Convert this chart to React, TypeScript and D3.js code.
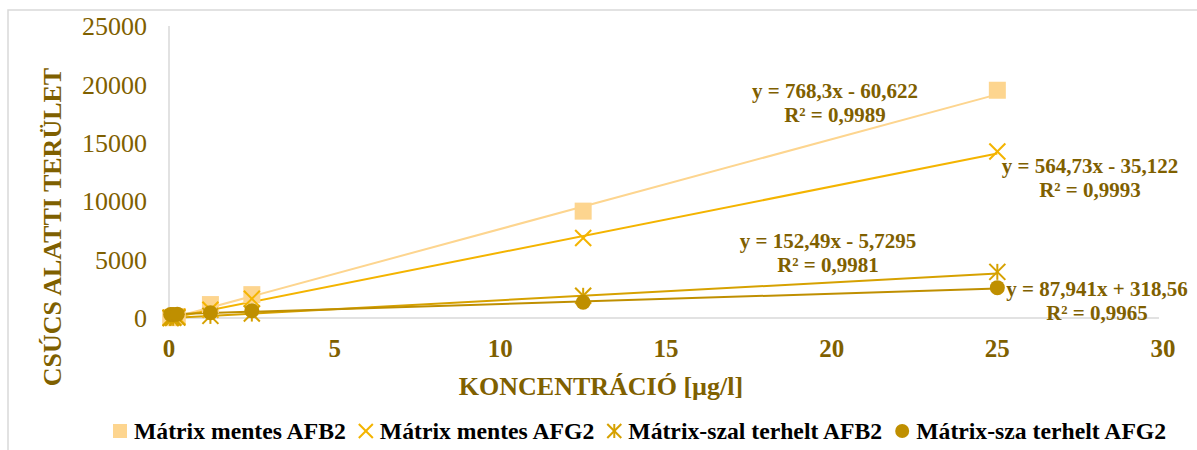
import React, { useEffect, useRef } from "react";
import * as d3 from "d3";

// Concentrations of the calibration standards (µg/l)
const concentrations = [0.05, 0.125, 0.25, 1.25, 2.5, 12.5, 25];

// Peak areas per series
const afb2Free = [25, 60, 130, 1150, 2000, 9150, 19500];
const afg2Free = [20, 40, 100, 700, 1650, 6850, 14250];
const afb2Matrix = [5, 15, 30, 180, 380, 1900, 3950];
const afg2Matrix = [300, 310, 330, 450, 620, 1350, 2600];

const seriesNames = [
  "Mátrix mentes AFB2",
  "Mátrix mentes AFG2",
  "Mátrix-szal terhelt AFB2",
  "Mátrix-sza terhelt AFG2",
];

// Linear trendline coefficients and fit quality
const slopes = [768.3, 564.73, 152.49, 87.941];
const intercepts = [-60.622, -35.122, -5.7295, 318.56];
const equationLabels = [
  "y = 768,3x - 60,622",
  "y = 564,73x - 35,122",
  "y = 152,49x - 5,7295",
  "y = 87,941x + 318,56",
];
const r2Labels = ["R² = 0,9989", "R² = 0,9993", "R² = 0,9981", "R² = 0,9965"];

const xTicks = [0, 5, 10, 15, 20, 25, 30];
const yTicks = [0, 5000, 10000, 15000, 20000, 25000];

const xTitle = "KONCENTRÁCIÓ [µg/l]";
const yTitle = "CSÚCS ALATTI TERÜLET";

const W = 1197;
const H = 450;
const FONT = "'Liberation Serif', 'Times New Roman', serif";
const TEXT = "#7f6000";
const AXIS = "#d9d9d9";
const colors = ["#fdd58f", "#f4b400", "#d6a100", "#bf8f00"];
const shapes = ["square", "x", "asterisk", "circle"];

function drawMarker(
  g: d3.Selection<SVGGElement, unknown, null, undefined>,
  shape: string,
  cx: number,
  cy: number,
  size: number,
  color: string
) {
  const h = size / 2;
  if (shape === "square") {
    g.append("rect")
      .attr("x", cx - h)
      .attr("y", cy - h)
      .attr("width", size)
      .attr("height", size)
      .attr("fill", color);
  } else if (shape === "circle") {
    g.append("circle").attr("cx", cx).attr("cy", cy).attr("r", h).attr("fill", color);
  } else {
    const segs: [number, number, number, number][] = [
      [-h, -h, h, h],
      [-h, h, h, -h],
    ];
    if (shape === "asterisk") segs.push([0, -h, 0, h]);
    segs.forEach(([x1, y1, x2, y2]) =>
      g.append("line")
        .attr("x1", cx + x1)
        .attr("y1", cy + y1)
        .attr("x2", cx + x2)
        .attr("y2", cy + y2)
        .attr("stroke", color)
        .attr("stroke-width", 2)
    );
  }
}

export default function App() {
  const ref = useRef<SVGSVGElement | null>(null);

  useEffect(() => {
    const svg = d3.select(ref.current);
    svg.selectAll("*").remove();

    const series = [afb2Free, afg2Free, afb2Matrix, afg2Matrix];

    const x = d3.scaleLinear().domain([0, 30]).range([169, 1163]);
    const y = d3.scaleLinear().domain([0, 25000]).range([318, 26]);

    // outer chart frame
    svg.append("rect")
      .attr("x", 8)
      .attr("y", 10)
      .attr("width", 1200)
      .attr("height", 460)
      .attr("fill", "#fff")
      .attr("stroke", AXIS)
      .attr("stroke-width", 1.5);

    // axis lines
    svg.append("line")
      .attr("x1", x(0)).attr("x2", x(0))
      .attr("y1", y(25000)).attr("y2", y(0))
      .attr("stroke", AXIS).attr("stroke-width", 1.5);
    svg.append("line")
      .attr("x1", x(0)).attr("x2", x(30) - 4)
      .attr("y1", y(0)).attr("y2", y(0))
      .attr("stroke", AXIS).attr("stroke-width", 1.5);

    // y tick labels
    svg.append("g")
      .selectAll("text")
      .data(yTicks)
      .join("text")
      .attr("x", 147)
      .attr("y", (d) => y(d))
      .attr("dy", "0.35em")
      .attr("text-anchor", "end")
      .attr("font-family", FONT)
      .attr("font-size", 26)
      .attr("fill", TEXT)
      .text((d) => String(d));

    // x tick labels
    svg.append("g")
      .selectAll("text")
      .data(xTicks)
      .join("text")
      .attr("x", (d) => x(d))
      .attr("y", 348)
      .attr("dy", "0.35em")
      .attr("text-anchor", "middle")
      .attr("font-family", FONT)
      .attr("font-size", 25)
      .attr("font-weight", "bold")
      .attr("fill", TEXT)
      .text((d) => String(d));

    // axis titles
    svg.append("text")
      .attr("transform", `translate(52,227) rotate(-90)`)
      .attr("dy", "0.35em")
      .attr("text-anchor", "middle")
      .attr("font-family", FONT)
      .attr("font-size", 26)
      .attr("font-weight", "bold")
      .attr("fill", TEXT)
      .text(yTitle);
    svg.append("text")
      .attr("x", 601)
      .attr("y", 386)
      .attr("dy", "0.35em")
      .attr("text-anchor", "middle")
      .attr("font-family", FONT)
      .attr("font-size", 26)
      .attr("font-weight", "bold")
      .attr("fill", TEXT)
      .text(xTitle);

    // trendlines
    const x0 = d3.min(concentrations) as number;
    const x1 = d3.max(concentrations) as number;
    const tg = svg.append("g");
    slopes.forEach((m, i) => {
      const line = d3.line<number>()
        .x((c) => x(c))
        .y((c) => y(m * c + intercepts[i]));
      tg.append("path")
        .attr("d", line([x0, x1]))
        .attr("fill", "none")
        .attr("stroke", colors[i])
        .attr("stroke-width", 2);
    });

    // data markers
    const mg = svg.append("g");
    series.forEach((vals, i) => {
      vals.forEach((v, k) => {
        const size = shapes[i] === "square" ? 17 : shapes[i] === "circle" ? 15 : 16;
        drawMarker(mg as any, shapes[i], x(concentrations[k]), y(v), size, colors[i]);
      });
    });

    // trendline equation labels
    const labelPos: [number, number][] = [
      [835, 91],
      [1090, 166],
      [828, 241],
      [1097, 289],
    ];
    const lg = svg.append("g");
    labelPos.forEach(([lx, ly], i) => {
      [equationLabels[i], r2Labels[i]].forEach((t, j) => {
        lg.append("text")
          .attr("x", lx)
          .attr("y", ly + j * 24)
          .attr("dy", "0.35em")
          .attr("text-anchor", "middle")
          .attr("font-family", FONT)
          .attr("font-size", 21)
          .attr("font-weight", "bold")
          .attr("fill", TEXT)
          .text(t);
      });
    });

    // legend
    const leg = svg.append("g");
    let cursor = 113;
    const ly = 431;
    seriesNames.forEach((name, i) => {
      drawMarker(leg as any, shapes[i], cursor + 7, ly, 14, colors[i]);
      const t = leg.append("text")
        .attr("x", cursor + 21)
        .attr("y", ly)
        .attr("dy", "0.35em")
        .attr("font-family", FONT)
        .attr("font-size", 23.7)
        .attr("font-weight", "bold")
        .attr("fill", "#000")
        .text(name);
      const w = (t.node() as SVGTextElement).getComputedTextLength();
      cursor += 21 + w + 13;
    });
  }, []);

  return (
    <svg
      ref={ref}
      width={W}
      height={H}
      style={{ position: "absolute", left: 0, top: 0, display: "block" }}
    />
  );
}
